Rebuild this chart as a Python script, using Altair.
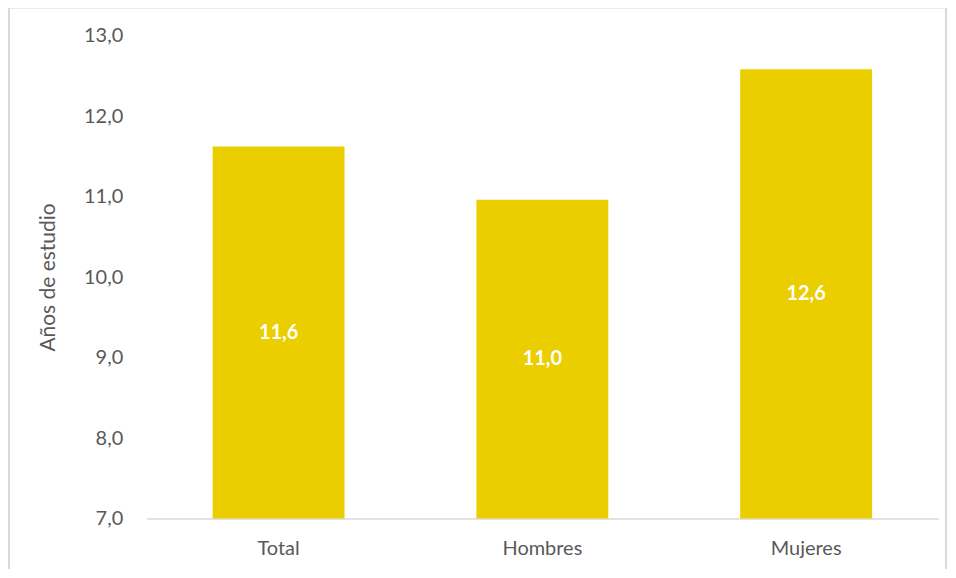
import altair as alt
import pandas as pd

categories = ["Total", "Hombres", "Mujeres"]
values = [11.62, 10.96, 12.58]
baseline = 7

df = pd.DataFrame({"cat": categories, "v": values, "base": [baseline] * len(categories)})

FONT = "Lato"
GREY = "#595959"
BAR = "#EBCE00"

x_enc = alt.X("cat:N", sort=categories, title=None,
              scale=alt.Scale(paddingInner=0.5, paddingOuter=0.25),
              axis=alt.Axis(labelAngle=0, labelFontSize=20, labelColor=GREY, labelFont=FONT,
                            labelPadding=20, ticks=False, domainColor="#D9D9D9", domainWidth=1.3))

bars = alt.Chart(df).mark_bar(color=BAR).encode(
    x=x_enc,
    y=alt.Y("v:Q", title="Años de estudio",
            scale=alt.Scale(domain=[7, 13], nice=False, zero=False),
            axis=alt.Axis(values=[7, 8, 9, 10, 11, 12, 13], labelExpr="replace(format(datum.value, '.1f'), '.', ',')",
                          labelFontSize=20, labelColor=GREY, labelFont=FONT, labelPadding=24,
                          ticks=False, domain=False, grid=False,
                          titleFontSize=21, titleColor=GREY, titleFont=FONT, titleFontWeight="normal",
                          titlePadding=25)),
    y2="base:Q",
)

labels = alt.Chart(df).transform_calculate(
    mid="(datum.v + datum.base) / 2",
    lab="replace(format(datum.v, '.1f'), '.', ',')",
).mark_text(color="white", fontSize=20, fontWeight="bold", font=FONT).encode(
    x=alt.X("cat:N", sort=categories),
    y=alt.Y("mid:Q"),
    text="lab:N",
)

border = alt.Chart(df).mark_rect(fill="transparent", stroke="#D9D9D9", strokeWidth=1.5).encode(
    x=alt.value(-138), x2=alt.value(801), y=alt.value(-28), y2=alt.value(560)
)

chart = alt.layer(border, bars, labels).properties(
    width=793, height=484,
    padding={"left": 139, "top": 27, "right": 10, "bottom": 50},
    autosize=alt.AutoSizeParams(type="none"),
).configure(font=FONT).configure_view(strokeWidth=0, stroke="transparent")

chart.save("out.html", embed_options={"renderer": "svg", "actions": False})
